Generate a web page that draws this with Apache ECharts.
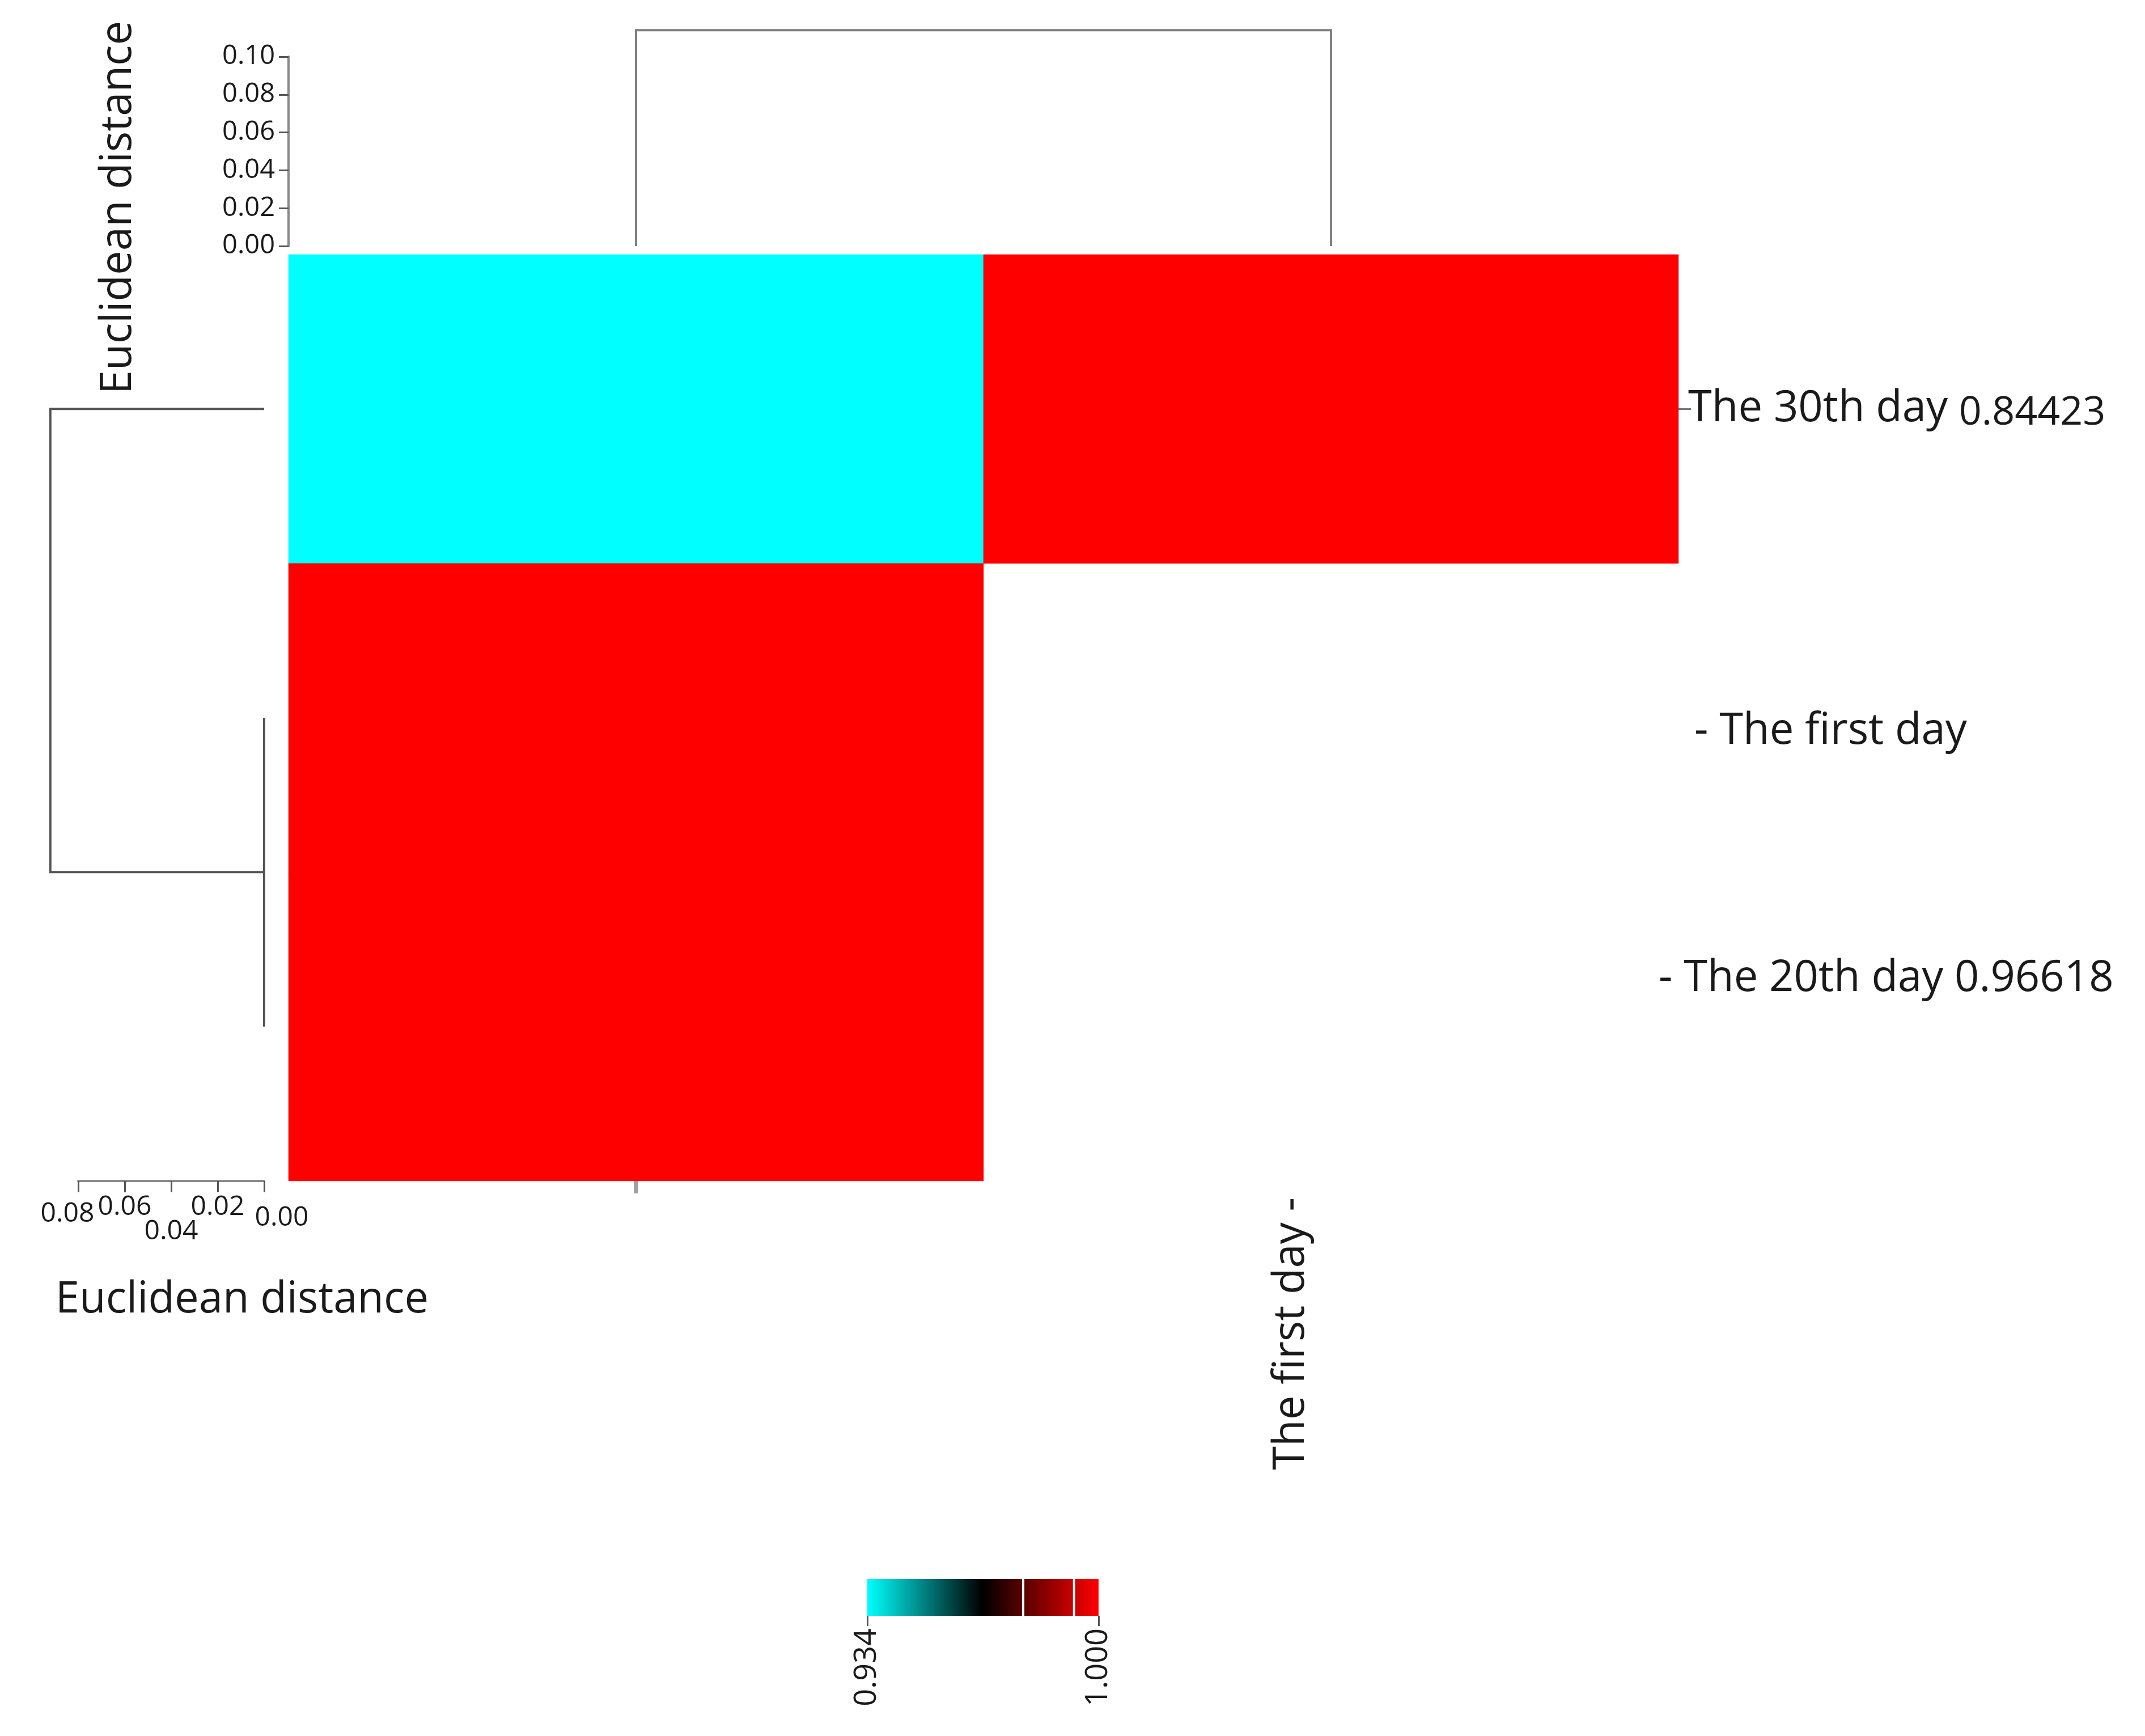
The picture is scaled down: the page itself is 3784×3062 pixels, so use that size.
<!DOCTYPE html>
<html>
<head>
<meta charset="utf-8">
<script src="https://cdn.jsdelivr.net/npm/echarts@6/dist/echarts.min.js"></script>
<style>
html,body{margin:0;padding:0;background:#fff;}
#c{width:3784px;height:3062px;}
</style>
</head>
<body>
<div id="c"></div>
<script>
// ---------- data ----------
const rowLabels = ['The 30th day', 'The first day', 'The 20th day'];
const rowNotes = ['0.84423', '', '0.96618'];
const colLabels = ['', 'The first day'];
// heat values per row (columns 0..1); null = empty cell
const heatRow30 = [0.934, 1.000];
const heatRowFirst = [1.000, null];
const heatRow20 = [1.000, null];
const colorMin = 0.934;
const colorMax = 1.000;
const colorPalette = ['#00ffff', '#000000', '#ff0000'];
const colorbarBreaks = [0.9785, 0.9930];
const colorbarTicks = [0.934, 1.000];
// column dendrogram: [posA, baseA, posB, baseB, mergeHeight]
const colLinks = [[0, 0, 1, 0, 0.114]];
// row dendrogram: (first, 20th) merge, then (30th, that cluster) merge
const rowLinks = [
  [1, 0, 2, 0, 0.0],
  [0, 0, 1.5, 0.0, 0.092]
];
const topAxisMax = 0.10;
const leftAxisMax = 0.08;
const axisStep = 0.02;

// ---------- build ----------
const heatRows = [heatRow30, heatRowFirst, heatRow20];
const heatData = [];
heatRows.forEach((row, r) => row.forEach((v, c) => { if (v != null) heatData.push([c, r, v]); }));

const segs = [];
const bounds = [colorMin].concat(colorbarBreaks, [colorMax]);
for (let i = 0; i < bounds.length - 1; i++) segs.push([bounds[i], bounds[i + 1]]);

function norm(v) { return (v - colorMin) / (colorMax - colorMin); }
function gradientFor(a, b) {
  const stops = [{offset: 0, color: echarts.color.lerp(norm(a), colorPalette)}];
  const n = colorPalette.length - 1;
  for (let k = 1; k < n; k++) {
    const v = colorMin + (colorMax - colorMin) * k / n;
    if (v > a && v < b) stops.push({offset: (v - a) / (b - a), color: colorPalette[k]});
  }
  stops.push({offset: 1, color: echarts.color.lerp(norm(b), colorPalette)});
  return {type: 'linear', x: 0, y: 0, x2: 1, y2: 0, colorStops: stops};
}

function dendroRender(horizontalLeaves, color) {
  return (params, api) => {
    const pa = api.value(0), ba = api.value(1), pb = api.value(2), bb = api.value(3), h = api.value(4);
    const pts = horizontalLeaves
      ? [[pa, ba], [pa, h], [pb, h], [pb, bb]]
      : [[ba, pa], [h, pa], [h, pb], [bb, pb]];
    return {
      type: 'polyline',
      shape: {points: pts.map(p => api.coord(p))},
      style: {stroke: color, lineWidth: 4, fill: null}
    };
  };
}

const FONT = 'Open Sans';
const TXT = '#1a1a1a';
const chart = echarts.init(document.getElementById('c'), null, {renderer: 'canvas'});
const option = {
  animation: false,
  backgroundColor: '#ffffff',
  textStyle: {fontFamily: FONT},
  grid: [
    {left: 509, top: 449, width: 2452, height: 1634},
    {left: 509, top: 100, width: 2452, height: 334},
    {left: 138, top: 449, width: 328, height: 1634},
    {left: 1530, top: 2785, width: 408, height: 65}
  ],
  xAxis: [
    {
      gridIndex: 0, type: 'category', data: colLabels, position: 'bottom',
      axisLine: {show: false},
      axisTick: {show: true, alignWithLabel: true, interval: (i) => i === 0, length: 22,
                 lineStyle: {color: '#a0a0a0', width: 8}},
      axisLabel: {rotate: 90, margin: 29, fontSize: 76, color: TXT, interval: 0,
                  formatter: (v) => v ? '{c|' + v + ' -}' : '',
                  rich: {c: {fontSize: 76, color: TXT, fontFamily: FONT, padding: [0, 0, 140, 0]}}},
      splitLine: {show: false}
    },
    {gridIndex: 1, type: 'value', min: -0.5, max: 1.5, show: false},
    {
      gridIndex: 2, type: 'value', min: 0, max: leftAxisMax, interval: axisStep, inverse: true,
      position: 'bottom',
      axisLine: {show: true, onZero: false, lineStyle: {color: '#8a8a8a', width: 4}},
      axisTick: {show: true, length: 20, lineStyle: {color: '#555', width: 3}},
      axisLabel: {
        fontSize: 48, color: TXT, margin: 22,
        formatter: (v) => {
          const s = v.toFixed(2);
          if (Math.abs(v - 0.04) < 1e-9) return '{d|' + s + '}';
          if (Math.abs(v) < 1e-9) return '{z|' + s + '}';
          if (Math.abs(v - 0.08) < 1e-9) return '{e|' + s + '}';
          return '{n|' + s + '}';
        },
        rich: {
          n: {fontSize: 48, color: TXT, fontFamily: FONT},
          d: {fontSize: 48, color: TXT, fontFamily: FONT, padding: [43, 0, 0, 0]},
          z: {fontSize: 48, color: TXT, fontFamily: FONT, padding: [19, 0, 0, 62]},
          e: {fontSize: 48, color: TXT, fontFamily: FONT, padding: [12, 38, 0, 0]}
        }
      },
      splitLine: {show: false},
      name: 'Euclidean distance', nameLocation: 'middle', nameGap: 172,
      nameTextStyle: {fontSize: 76, color: TXT, padding: [0, 0, 0, 250]}
    },
    {
      gridIndex: 3, type: 'value', min: colorMin, max: colorMax,
      axisLine: {show: false},
      axisTick: {show: true, customValues: colorbarTicks, length: 18, lineStyle: {color: '#555', width: 3}},
      axisLabel: {customValues: colorbarTicks, rotate: 90, fontSize: 54, color: TXT, margin: 22,
                  formatter: (v) => Number(v).toFixed(3)},
      splitLine: {show: false}
    }
  ],
  yAxis: [
    {
      gridIndex: 0, type: 'category', data: rowLabels, inverse: true, position: 'right',
      axisLine: {show: false},
      axisTick: {show: true, alignWithLabel: true, interval: (i) => i === 0, length: 22,
                 lineStyle: {color: '#777', width: 3}},
      axisLabel: {
        margin: -35, fontSize: 76, color: TXT, align: 'left', interval: 0,
        formatter: (v, i) => {
          if (i === 0) return '{r0|' + v + '} {s|' + rowNotes[0] + '}';
          return '{r' + i + '|- ' + v + (rowNotes[i] ? ' ' + rowNotes[i] : '') + '}';
        },
        rich: {
          r0: {fontSize: 76, color: TXT, fontFamily: FONT, padding: [0, 0, 0, 52]},
          r1: {fontSize: 76, color: TXT, fontFamily: FONT, padding: [48, 0, 0, 63]},
          r2: {fontSize: 76, color: TXT, fontFamily: FONT, padding: [0, 0, 168, 0]},
          s: {fontSize: 70, color: TXT, fontFamily: FONT, padding: [16, 0, 0, 0]}
        }
      },
      splitLine: {show: false}
    },
    {
      gridIndex: 1, type: 'value', min: 0, max: topAxisMax, interval: axisStep, position: 'left',
      axisLine: {show: true, onZero: false, lineStyle: {color: '#8a8a8a', width: 4}},
      axisTick: {show: true, length: 17, lineStyle: {color: '#555', width: 3}},
      axisLabel: {fontSize: 47, color: TXT, margin: 24, formatter: (v) => v.toFixed(2)},
      splitLine: {show: false},
      name: 'Euclidean distance', nameLocation: 'middle', nameRotate: 90, nameGap: 262,
      nameTextStyle: {fontSize: 76, color: TXT, padding: [0, 198, 0, 0]}
    },
    {gridIndex: 2, type: 'value', min: -0.5, max: 2.5, inverse: true, show: false},
    {gridIndex: 3, type: 'value', min: 0, max: 1, show: false}
  ],
  visualMap: {
    type: 'continuous', show: false, min: colorMin, max: colorMax, dimension: 2,
    seriesIndex: 0, inRange: {color: colorPalette}
  },
  series: [
    {
      type: 'heatmap', xAxisIndex: 0, yAxisIndex: 0, data: heatData,
      itemStyle: {borderWidth: 0}, emphasis: {disabled: true}
    },
    {
      type: 'custom', xAxisIndex: 1, yAxisIndex: 1, data: colLinks, clip: false,
      encode: {x: [0, 2], y: [1, 3, 4]},
      renderItem: dendroRender(true, '#7f7f7f')
    },
    {
      type: 'custom', xAxisIndex: 2, yAxisIndex: 2, data: rowLinks, clip: false,
      encode: {x: [1, 3, 4], y: [0, 2]},
      renderItem: dendroRender(false, '#555555')
    },
    {
      type: 'custom', xAxisIndex: 3, yAxisIndex: 3, data: segs, encode: {x: [0, 1]},
      renderItem: (params, api) => {
        const a = api.value(0), b = api.value(1);
        const p0 = api.coord([a, 1]), p1 = api.coord([b, 0]);
        const gl = params.dataIndex > 0 ? 2 : 0;
        const gr = params.dataIndex < segs.length - 1 ? 2 : 0;
        return {
          type: 'rect',
          shape: {x: p0[0] + gl, y: p0[1], width: p1[0] - p0[0] - gl - gr, height: p1[1] - p0[1]},
          style: {fill: gradientFor(a, b)}
        };
      }
    }
  ]
};
chart.setOption(option);
</script>
</body>
</html>
